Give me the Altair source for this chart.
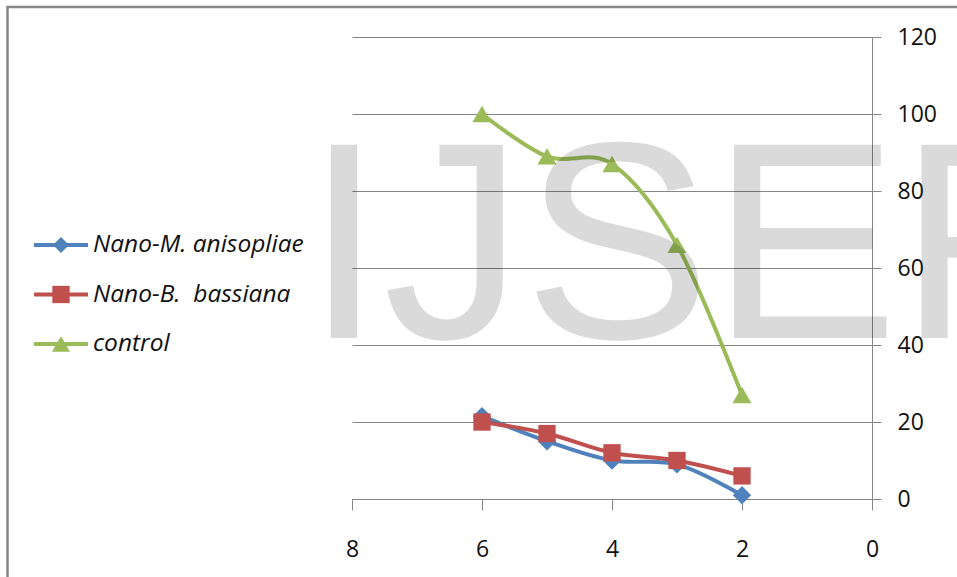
import altair as alt
import pandas as pd

# ---- data ----
x_vals = [6, 5, 4, 3, 2]
series_names = ["Nano-M. anisopliae", "Nano-B.\u00a0 bassiana", "control"]
m_anisopliae = [21.5, 15, 10, 9, 1]
b_bassiana = [20, 17, 12, 10, 6]
control = [100, 89, 87, 66, 27]
series_values = [m_anisopliae, b_bassiana, control]
series_colors = ["#4F81BD", "#C0504D", "#9BBB59"]
series_shapes = ["diamond", "square", "triangle-up"]
marker_sizes = [340, 300, 360]
legend_marker_sizes = [260, 300, 330]
x_ticks = [0, 2, 4, 6, 8]
y_ticks = [0, 20, 40, 60, 80, 100, 120]
watermark = "IJSER"

W, H = 520, 462
PAD_L, PAD_T = 352, 37
AX_FONT = "Open Sans"

xs = alt.Scale(domain=[0, 8], reverse=True, nice=False, zero=False)
ys = alt.Scale(domain=[0, 120], nice=False)

layers = []

# axes carrier (invisible)
base_df = pd.DataFrame({"x": x_vals, "y": control})
axes = alt.Chart(base_df).mark_point(opacity=0).encode(
    x=alt.X("x:Q", scale=xs, axis=alt.Axis(values=x_ticks, title=None, grid=False,
                                          domainColor="#868686", tickColor="#868686",
                                          tickSize=11, labelPadding=28, labelFont=AX_FONT,
                                          labelFontSize=23, labelColor="#111111",
                                          labelFlush=False, format="d")),
    y=alt.Y("y:Q", scale=ys, axis=alt.Axis(orient="right", values=y_ticks, title=None,
                                          grid=True, gridColor="#868686", gridWidth=1,
                                          domainColor="#868686", tickColor="#868686",
                                          tickSize=9, labelPadding=16, labelFont=AX_FONT,
                                          labelFontSize=23, labelColor="#111111",
                                          labelFlush=False, format="d")),
)
layers.append(axes)

for name, vals, col, shp, sz in zip(series_names, series_values, series_colors,
                                    series_shapes, marker_sizes):
    df = pd.DataFrame({"x": x_vals, "y": vals, "series": name})
    line = alt.Chart(df).mark_line(interpolate="cardinal", strokeWidth=4, color=col).encode(
        x=alt.X("x:Q", scale=xs), y=alt.Y("y:Q", scale=ys))
    pts = alt.Chart(df).mark_point(shape=shp, size=sz, filled=True, opacity=1,
                                   color=col, strokeWidth=1).encode(
        x=alt.X("x:Q", scale=xs), y=alt.Y("y:Q", scale=ys))
    layers += [line, pts]

# manual legend on the left
leg_y0, leg_dy = 208, 49.5
for i, (name, col, shp, sz) in enumerate(zip(series_names, series_colors,
                                             series_shapes, legend_marker_sizes)):
    ldf = pd.DataFrame({"name": [name]})
    yp = leg_y0 + i * leg_dy
    layers.append(alt.Chart(ldf).mark_rule(color=col, strokeWidth=4).encode(
        x=alt.value(-318), x2=alt.value(-264), y=alt.value(yp)))
    layers.append(alt.Chart(ldf).mark_point(shape=shp, size=sz, filled=True, opacity=1,
                                            color=col).encode(
        x=alt.value(-291), y=alt.value(yp)))
    layers.append(alt.Chart(ldf).mark_text(align="left", baseline="middle", font=AX_FONT,
                                           fontStyle="italic", fontSize=24.5,
                                           color="#111111").encode(
        x=alt.value(-259), y=alt.value(yp), text="name:N"))

# watermark (semi-transparent, on top)
wdf = pd.DataFrame({"t": [watermark]})
layers.append(alt.Chart(wdf).mark_text(align="left", baseline="alphabetic",
                                       font="Liberation Sans", fontSize=281,
                                       color="black", opacity=0.14).encode(
    x=alt.value(305 - PAD_L), y=alt.value(338 - PAD_T), text="t:N"))

# outer frame
fdf = pd.DataFrame({"k": [0]})
layers.append(alt.Chart(fdf).mark_rect(fillOpacity=0, stroke="#878787", strokeWidth=2.5).encode(
    x=alt.value(7.5 - PAD_L), x2=alt.value(1200), y=alt.value(7 - PAD_T), y2=alt.value(900)))

chart = alt.layer(*layers).properties(
    width=W, height=H,
    autosize=alt.AutoSizeParams(type="none"),
    padding={"left": PAD_L, "top": PAD_T, "right": 957 - PAD_L - W, "bottom": 577 - PAD_T - H},
    background="white",
).configure_view(stroke=None)

chart.save("out.html", embed_options={"renderer": "svg", "actions": False})
